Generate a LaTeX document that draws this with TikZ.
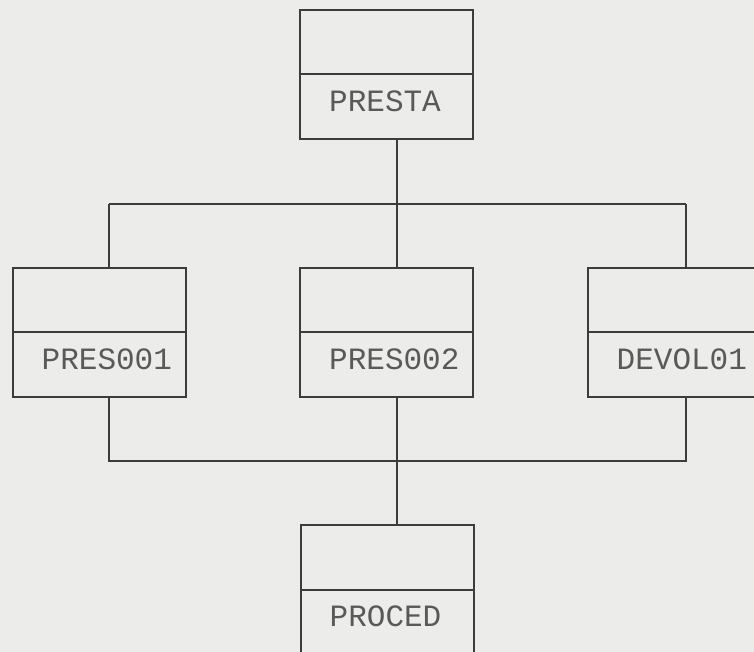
\documentclass[tikz,border=0pt]{standalone}
\usepackage{fontspec}
\setmonofont{Liberation Mono}
\usetikzlibrary{positioning}
\definecolor{paper}{RGB}{236,236,234}
\definecolor{ink}{RGB}{60,60,60}
\tikzset{
  modbox/.style={draw=ink, line width=2pt, minimum width=173pt, minimum height=129pt, inner sep=0pt},
  modname/.style={anchor=base west, inner sep=0pt, text=ink!85, font=\ttfamily\fontsize{31}{32}\selectfont},
  link/.style={draw=ink, line width=2pt}
}
\begin{document}
\begin{tikzpicture}[x=1pt, y=-1pt]
  \fill[paper] (0,0) rectangle (754,652);
  \useasboundingbox (0,0) rectangle (754,652);

  \node[modbox] (presta)  at (386.5, 74.5)  {};
  \node[modbox] (pres001) at (99, 332)      {};
  \node[modbox] (pres002) at (386.5, 332)   {};
  \node[modbox] (devol01) at (674, 332)     {};
  \node[modbox] (proced)  at (387, 589.5)   {};

  \draw[link] (presta.west) to (presta.east);
  \draw[link] (pres001.west) to (pres001.east);
  \draw[link] (pres002.west) to (pres002.east);
  \draw[link] (devol01.west) to (devol01.east);
  \draw[link] (proced.west) to (proced.east);

  \node[modname] (presta-t)  at ([xshift=30pt, yshift=-37pt]presta.west)  {PRESTA};
  \node[modname] (pres001-t) at ([xshift=30pt, yshift=-37pt]pres001.west) {PRES001};
  \node[modname] (pres002-t) at ([xshift=30pt, yshift=-37pt]pres002.west) {PRES002};
  \node[modname] (devol01-t) at ([xshift=30pt, yshift=-37pt]devol01.west) {DEVOL01};
  \node[modname] (proced-t)  at ([xshift=30pt, yshift=-37pt]proced.west)  {PROCED};

  %bus du haut
  \coordinate (up1) at (109, 204);
  \coordinate (up2) at (397, 204);
  \coordinate (up3) at (686, 204);
  \draw[link] (up2 |- presta.south) to (up2);
  \draw[link] (up1) to (up3);
  \draw[link] (up1) to (up1 |- pres001.north);
  \draw[link] (up2) to (up2 |- pres002.north);
  \draw[link] (up3) to (up3 |- devol01.north);

  %bus du bas
  \coordinate (low1) at (109, 461);
  \coordinate (low2) at (397, 461);
  \coordinate (low3) at (686, 461);
  \draw[link] (low1 |- pres001.south) to (low1) to (low3) to (low3 |- devol01.south);
  \draw[link] (low2 |- pres002.south) to (low2 |- proced.north);
\end{tikzpicture}
\end{document}
